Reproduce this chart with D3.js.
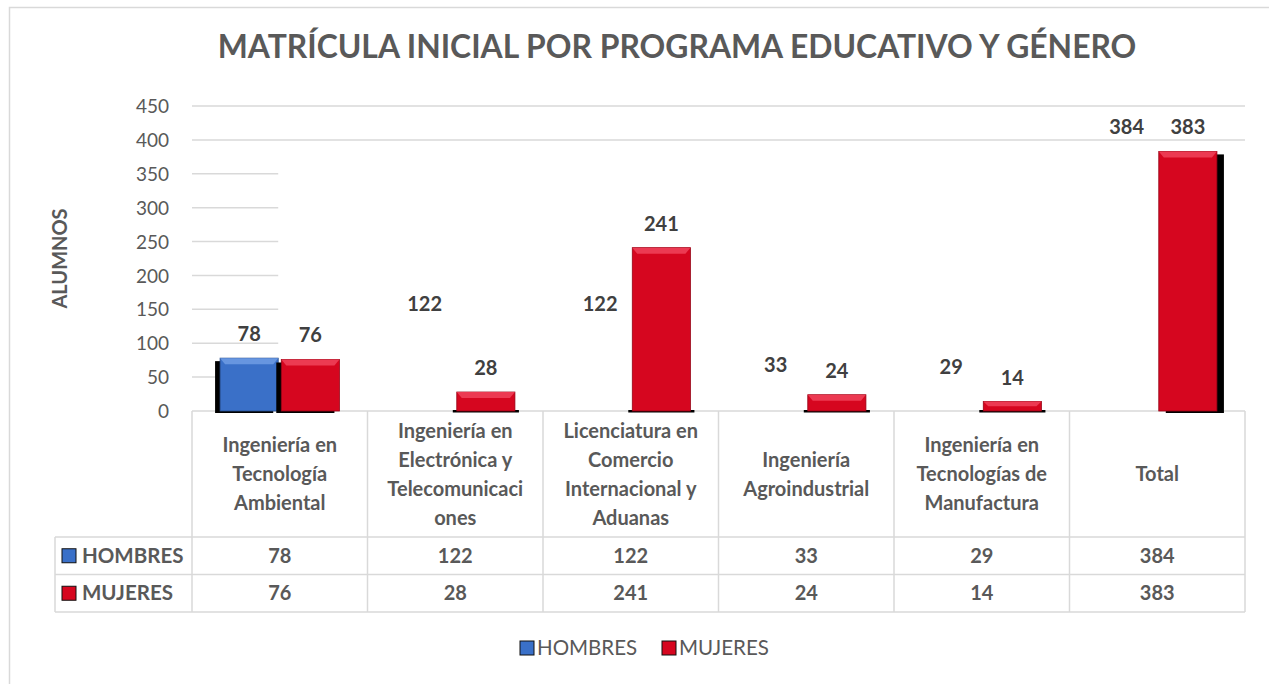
<!DOCTYPE html>
<html>
<head>
<meta charset="utf-8">
<script src="https://cdn.jsdelivr.net/npm/d3@7/dist/d3.min.js"></script>
<style>
  body { margin: 0; background: #fff; }
  svg { display: block; font-family: Lato, "Open Sans", sans-serif; }
</style>
</head>
<body>
<div id="chart"></div>
<script>
"use strict";

// chart data
var categories = [
  "Ingeniería en Tecnología Ambiental",
  "Ingeniería en Electrónica y Telecomunicaciones",
  "Licenciatura en Comercio Internacional y Aduanas",
  "Ingeniería Agroindustrial",
  "Ingeniería en Tecnologías de Manufactura",
  "Total"
];
var categoryLines = [
  ["Ingeniería en", "Tecnología", "Ambiental"],
  ["Ingeniería en", "Electrónica y", "Telecomunicaci", "ones"],
  ["Licenciatura en", "Comercio", "Internacional y", "Aduanas"],
  ["Ingeniería", "Agroindustrial"],
  ["Ingeniería en", "Tecnologías de", "Manufactura"],
  ["Total"]
];
var seriesNames = ["HOMBRES", "MUJERES"];
var hombres = [78, 122, 122, 33, 29, 384];
var mujeres = [76, 28, 241, 24, 14, 383];
// in the source only the first HOMBRES bar is filled, the rest are blank
var hombresShown = [true, false, false, false, false, false];
var yTicks = [0, 50, 100, 150, 200, 250, 300, 350, 400, 450];

var title = "MATRÍCULA INICIAL POR PROGRAMA EDUCATIVO Y GÉNERO";
var yTitle = "ALUMNOS";

var width = 1269,
  height = 684;

var colors = { HOMBRES: "#3a70c8", MUJERES: "#d6061f" };
var tops = { HOMBRES: "#6796e0", MUJERES: "#ec3a52" };
var grid = "#d9d9d9",
  txt = "#595959",
  dark = "#404040";

var svg = d3
  .select("#chart")
  .append("svg")
  .attr("width", width)
  .attr("height", height);

// outer chart border
svg
  .append("rect")
  .attr("x", 9.5)
  .attr("y", 7.5)
  .attr("width", 1280)
  .attr("height", 700)
  .attr("fill", "#fff")
  .attr("stroke", grid)
  .attr("stroke-width", 1.5);

// scales
var y = d3.scaleLinear().domain([0, 450]).range([411, 106]);
var x0 = d3.scaleBand().domain(categories).range([192, 1245]);
var x1 = d3
  .scaleBand()
  .domain(seriesNames)
  .range([x0.bandwidth() * 0.16, x0.bandwidth() * 0.84])
  .paddingInner(0.05);

// title, fitted to the reference width
var t = svg
  .append("text")
  .attr("x", 677)
  .attr("y", 58)
  .attr("text-anchor", "middle")
  .attr("font-weight", "bold")
  .attr("font-size", 30)
  .attr("fill", txt)
  .text(title);
var tw = t.node().getComputedTextLength();
t.attr("font-size", 30 * 919 / tw);

// y axis
var yAxis = d3
  .axisLeft(y)
  .tickValues(yTicks)
  .tickSize(0)
  .tickPadding(0);
var ya = svg
  .append("g")
  .attr("transform", "translate(169,0)")
  .call(yAxis);
ya.select(".domain").remove();
ya.selectAll("text")
  .attr("font-size", 19)
  .attr("font-family", "Lato, sans-serif")
  .attr("fill", txt)
  .attr("dy", "0.35em");

// gridlines
svg
  .append("g")
  .selectAll("line")
  .data(yTicks)
  .enter()
  .append("line")
  .attr("x1", 192)
  .attr("x2", 1245)
  .attr("y1", d => y(d))
  .attr("y2", d => y(d))
  .attr("stroke", grid)
  .attr("stroke-width", 1.5);

// the blank HOMBRES bars hide the gridlines behind them in the source
var firstEnd = x0(categories[0]) + x1("HOMBRES") + x1.bandwidth();
svg
  .append("rect")
  .attr("x", firstEnd)
  .attr("y", y(d3.max(hombres)) - 6)
  .attr("width", 1245 - firstEnd + 2)
  .attr("height", y(0) - 1 - (y(d3.max(hombres)) - 6))
  .attr("fill", "#fff");

svg
  .append("text")
  .attr("transform", "translate(67," + y(225) + ") rotate(-90)")
  .attr("text-anchor", "middle")
  .attr("font-weight", "bold")
  .attr("font-size", 20)
  .attr("fill", txt)
  .text(yTitle);

// bar data
var rows = [];
categories.forEach(function(c, i) {
  rows.push({ cat: c, i: i, s: "HOMBRES", v: hombres[i], show: hombresShown[i] });
  rows.push({ cat: c, i: i, s: "MUJERES", v: mujeres[i], show: true });
});

var bw = x1.bandwidth();
var last = categories.length - 1;
var bars = svg
  .append("g")
  .selectAll("g")
  .data(rows.filter(d => d.show))
  .enter()
  .append("g");

// dark 3d edge
bars
  .append("rect")
  .attr("x", function(d) {
    var bx = x0(d.cat) + x1(d.s);
    if (d.i === 0) return bx - 5;
    if (d.i === last) return bx + 7;
    return bx - 4;
  })
  .attr("y", function(d) {
    if (d.i === 0 || d.i === last) return y(d.v) + 3;
    return y(0) - 1;
  })
  .attr("width", function(d) {
    return d.i === 0 || d.i === last ? bw : bw + 8;
  })
  .attr("height", function(d) {
    if (d.i === 0 || d.i === last) return y(0) - y(d.v) - 1;
    return 2.5;
  })
  .attr("fill", "#000");

bars
  .append("rect")
  .attr("x", d => x0(d.cat) + x1(d.s))
  .attr("y", d => y(d.v))
  .attr("width", bw)
  .attr("height", d => y(0) - y(d.v))
  .attr("fill", d => colors[d.s])
  .attr("stroke", d => d3.color(colors[d.s]).darker(1))
  .attr("stroke-width", 0.8);

// bevel highlight on top
bars
  .append("path")
  .attr("d", function(d) {
    var bx = x0(d.cat) + x1(d.s),
      by = y(d.v),
      h = Math.min(6, (y(0) - y(d.v)) / 2);
    return (
      "M" + bx + "," + by +
      "L" + (bx + bw) + "," + by +
      "L" + (bx + bw - 5) + "," + (by + h) +
      "L" + (bx + 5) + "," + (by + h) + "Z"
    );
  })
  .attr("fill", d => tops[d.s]);

// data labels (also for blank bars)
svg
  .append("g")
  .selectAll("text")
  .data(rows)
  .enter()
  .append("text")
  .attr("x", d => x0(d.cat) + x1(d.s) + bw / 2)
  .attr("y", d => y(d.v) - 17)
  .attr("text-anchor", "middle")
  .attr("font-weight", "bold")
  .attr("font-size", 20)
  .attr("fill", dark)
  .text(d => d.v);

// data table
var rowTop = 537,
  rowH = 37.5,
  tableLeft = 55;
var tg = svg.append("g").attr("stroke", grid).attr("stroke-width", 1.5);
[rowTop, rowTop + rowH, rowTop + 2 * rowH].forEach(function(yy) {
  tg.append("line").attr("x1", tableLeft).attr("x2", 1245).attr("y1", yy).attr("y2", yy);
});
tg.append("line").attr("x1", tableLeft).attr("x2", tableLeft).attr("y1", rowTop).attr("y2", rowTop + 2 * rowH);
categories.concat([null]).forEach(function(c, i) {
  var xx = i < categories.length ? x0(c) : x0.range()[1];
  tg.append("line").attr("x1", xx).attr("x2", xx).attr("y1", 411).attr("y2", rowTop + 2 * rowH);
});

// category labels
var cl = svg
  .append("g")
  .selectAll("text")
  .data(categories)
  .enter()
  .append("text")
  .attr("text-anchor", "middle")
  .attr("font-weight", "bold")
  .attr("font-size", 20)
  .attr("fill", txt);
cl.each(function(c, i) {
  var lines = categoryLines[i];
  var cy = 474,
    lh = 29;
  d3.select(this)
    .selectAll("tspan")
    .data(lines)
    .enter()
    .append("tspan")
    .attr("x", x0(c) + x0.bandwidth() / 2)
    .attr("y", (d, j) => cy + (j - (lines.length - 1) / 2) * lh)
    .attr("dy", "0.35em")
    .text(d => d);
});

// table rows
[hombres, mujeres].forEach(function(vals, r) {
  var cy = rowTop + rowH * r + rowH / 2;
  var name = seriesNames[r];
  svg
    .append("rect")
    .attr("x", 62)
    .attr("y", cy - 7)
    .attr("width", 14)
    .attr("height", 14)
    .attr("fill", colors[name])
    .attr("stroke", "#111")
    .attr("stroke-width", 1);
  svg
    .append("text")
    .attr("x", 82)
    .attr("y", cy)
    .attr("dy", "0.35em")
    .attr("font-weight", "bold")
    .attr("font-size", 20.5)
    .attr("fill", txt)
    .text(name);
  svg
    .append("g")
    .selectAll("text")
    .data(vals)
    .enter()
    .append("text")
    .attr("x", (d, i) => x0(categories[i]) + x0.bandwidth() / 2)
    .attr("y", cy)
    .attr("dy", "0.35em")
    .attr("text-anchor", "middle")
    .attr("font-weight", "bold")
    .attr("font-size", 20)
    .attr("fill", txt)
    .text(d => d);
});

// legend
var lx = [520, 662];
seriesNames.forEach(function(name, i) {
  svg
    .append("rect")
    .attr("x", lx[i])
    .attr("y", 641)
    .attr("width", 14)
    .attr("height", 14)
    .attr("fill", colors[name])
    .attr("stroke", "#111")
    .attr("stroke-width", 1);
  svg
    .append("text")
    .attr("x", lx[i] + 17)
    .attr("y", 648)
    .attr("dy", "0.35em")
    .attr("font-size", 20.5)
    .attr("fill", txt)
    .text(name);
});
</script>
</body>
</html>
